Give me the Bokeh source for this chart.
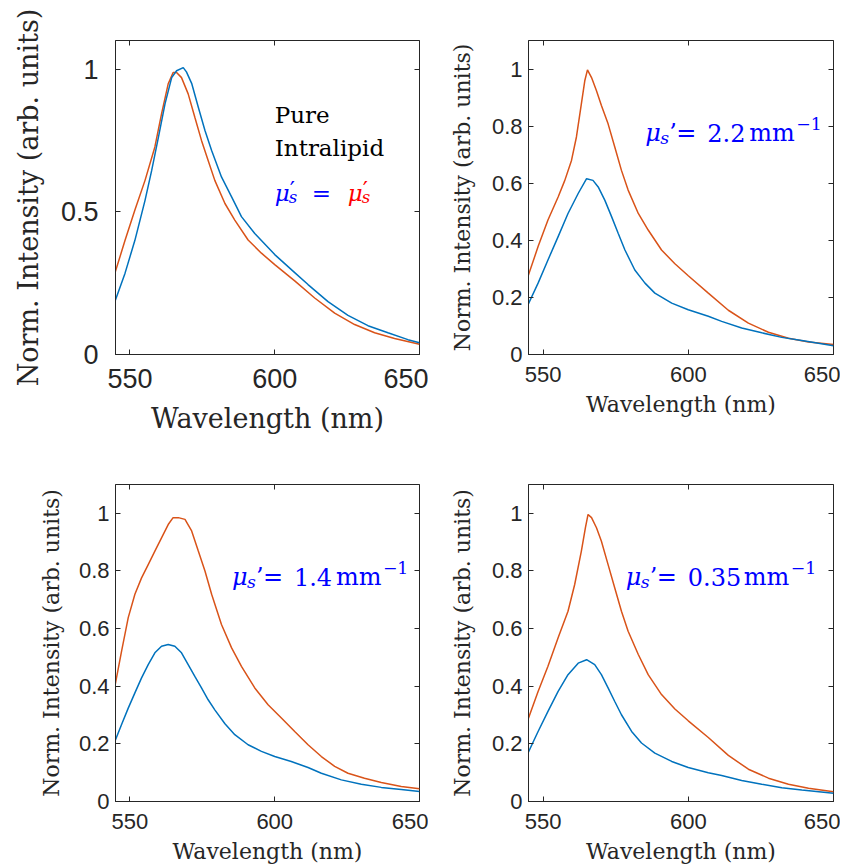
from bokeh.plotting import figure
from bokeh.layouts import column, row
from bokeh.models import Range1d, FixedTicker, LinearAxis, Label, CustomJSTickFormatter
from bokeh.embed import file_html
from bokeh.resources import INLINE

# ---------------- data ----------------
# Panel 1: pure Intralipid
p1_blue_wl = [544.8, 548.3, 551.7, 555.2, 557.5, 559.8, 562.1, 564.4, 566.1, 568.4, 569.5, 571.3, 573.6,
              575.9, 578.2, 581.6, 585.1, 588.5, 593.1, 600, 606.9, 611.5, 618.4, 625.3, 632.2, 639.1, 646, 650]
p1_blue_v = [0.186, 0.285, 0.40, 0.54, 0.645, 0.76, 0.878, 0.97, 0.994, 1.005, 0.99, 0.95, 0.866,
             0.785, 0.715, 0.622, 0.552, 0.483, 0.424, 0.35, 0.287, 0.245, 0.185, 0.137, 0.101, 0.076, 0.052, 0.041]
p1_orange_wl = [544.8, 548.3, 551.7, 555.2, 558.6, 560.9, 563.2, 564.9, 566.1, 567.8, 570.1, 572.4, 574.7,
                577, 579.3, 582.8, 586.2, 590.8, 595.4, 600, 606.9, 613.8, 620.7, 627.6, 634.5, 641.4, 650]
p1_orange_v = [0.285, 0.40, 0.506, 0.61, 0.727, 0.843, 0.948, 0.988, 0.988, 0.97, 0.913, 0.831, 0.75,
               0.68, 0.61, 0.529, 0.471, 0.401, 0.355, 0.315, 0.258, 0.198, 0.145, 0.105, 0.076, 0.056, 0.036]

# Panel 2: mu_s' = 2.2 mm^-1
p2_blue_wl = [544.8, 548.3, 551.7, 555.2, 558.6, 562.1, 565.0, 567.2, 569.0, 571.3, 573.6, 575.9, 578.2,
              581.6, 585.1, 588.5, 594.3, 600, 606.9, 611.5, 618.4, 625.3, 632.2, 639.1, 650]
p2_blue_v = [0.174, 0.25, 0.331, 0.413, 0.494, 0.564, 0.616, 0.61, 0.587, 0.54, 0.483, 0.424, 0.366,
             0.296, 0.25, 0.215, 0.18, 0.157, 0.134, 0.116, 0.093, 0.076, 0.06, 0.049, 0.031]
p2_orange_wl = [544.8, 548.3, 551.7, 555.2, 557.5, 559.8, 561.5, 563.2, 564.4, 565.3, 566.7, 568.4, 570.1,
                572.4, 574.7, 577, 579.3, 582.8, 586.2, 590.8, 595.4, 600, 606.9, 613.8, 620.7, 627.6,
                634.5, 641.4, 650]
p2_orange_v = [0.273, 0.378, 0.471, 0.552, 0.61, 0.68, 0.762, 0.878, 0.96, 0.997, 0.97, 0.924, 0.872,
               0.808, 0.727, 0.645, 0.576, 0.494, 0.436, 0.366, 0.318, 0.276, 0.215, 0.155, 0.11, 0.078,
               0.057, 0.044, 0.035]

# Panel 3: mu_s' = 1.4 mm^-1
p3_blue_wl = [544.8, 547.1, 549.4, 551.7, 554.0, 556.3, 558.6, 560.9, 563.2, 565.5, 567.8, 570.1, 572.4,
              574.7, 577, 579.3, 582.8, 586.2, 590.8, 595.4, 600, 605.7, 611.5, 616.1, 623, 629.9, 636.8,
              643.7, 650]
p3_blue_v = [0.209, 0.267, 0.324, 0.377, 0.429, 0.475, 0.516, 0.539, 0.545, 0.539, 0.516, 0.475, 0.434,
             0.394, 0.353, 0.318, 0.27, 0.232, 0.197, 0.174, 0.156, 0.139, 0.118, 0.098, 0.075, 0.06,
             0.049, 0.042, 0.035]
p3_orange_wl = [544.8, 547.1, 549.4, 551.7, 554.0, 556.3, 558.6, 560.9, 563.2, 564.9, 566.7, 569.0, 571.3,
                573.6, 575.9, 578.2, 581.6, 585.1, 588.5, 593.1, 597.7, 602.3, 606.9, 611.5, 616.1,
                620.7, 625.3, 631.0, 636.8, 643.7, 650]
p3_orange_v = [0.40, 0.522, 0.638, 0.719, 0.776, 0.822, 0.869, 0.915, 0.961, 0.985, 0.985, 0.979, 0.939,
               0.869, 0.80, 0.719, 0.614, 0.533, 0.469, 0.394, 0.336, 0.29, 0.243, 0.197, 0.156,
               0.122, 0.098, 0.081, 0.066, 0.052, 0.044]

# Panel 4: mu_s' = 0.35 mm^-1
p4_blue_wl = [544.8, 548.3, 551.7, 555.2, 558.6, 562.1, 565.0, 567.8, 570.1, 572.4, 574.7, 577, 580.5,
              583.9, 588.5, 594.3, 600, 606.9, 611.5, 618.4, 625.3, 632.2, 639.1, 650]
p4_blue_v = [0.168, 0.243, 0.313, 0.382, 0.44, 0.48, 0.492, 0.475, 0.44, 0.394, 0.347, 0.301, 0.243,
             0.203, 0.168, 0.139, 0.118, 0.1, 0.09, 0.073, 0.06, 0.048, 0.04, 0.029]
p4_orange_wl = [544.8, 548.3, 551.7, 555.2, 558.6, 560.9, 563.2, 564.6, 565.5, 566.7, 568.4, 570.1, 572.4,
                574.7, 577, 579.3, 582.8, 586.2, 590.8, 595.4, 600, 606.9, 613.8, 620.7, 627.6, 634.5,
                641.4, 650]
p4_orange_v = [0.284, 0.382, 0.469, 0.568, 0.66, 0.753, 0.869, 0.95, 0.996, 0.985, 0.95, 0.903, 0.822,
               0.741, 0.66, 0.591, 0.51, 0.44, 0.371, 0.321, 0.28, 0.222, 0.16, 0.112, 0.081, 0.06,
               0.046, 0.034]

x_ticks = [550, 600, 650]
y_ticks_p1 = [0, 0.5, 1]
y_ticks_other = [0, 0.2, 0.4, 0.6, 0.8, 1]
labels_mu = ["2.2", "1.4", "0.35"]

BLUE = "#0072BD"
ORANGE = "#D95319"
TICK_FONT = "Liberation Sans"
SERIF = "DejaVu Serif"
AX_COLOR = "#262626"


def make_panel(width, height, mb_left, mb_right, mb_top, mb_bottom, yticks,
               tick_size, label_size, x_tick_standoff, y_tick_standoff, x_standoff, y_standoff):
    p = figure(width=width, height=height, output_backend="svg", toolbar_location=None,
               x_range=Range1d(545.0, 650), y_range=Range1d(0, 1.1),
               min_border_left=mb_left, min_border_right=mb_right,
               min_border_top=mb_top, min_border_bottom=mb_bottom)
    p.grid.visible = False
    p.outline_line_color = AX_COLOR
    p.outline_line_width = 1
    fmt = CustomJSTickFormatter(code="return String(Math.round(tick*10)/10);")
    for ax in [p.xaxis[0], p.yaxis[0]]:
        ax.major_tick_in = 5
        ax.major_tick_out = 0
        ax.minor_tick_in = 0
        ax.minor_tick_out = 0
        ax.axis_line_color = AX_COLOR
        ax.major_tick_line_color = AX_COLOR
        ax.major_label_text_font = TICK_FONT
        ax.major_label_text_font_size = tick_size
        ax.major_label_text_color = AX_COLOR
        ax.axis_label_text_font = SERIF
        ax.axis_label_text_font_style = "normal"
        ax.axis_label_text_font_size = label_size
        ax.axis_label_text_color = AX_COLOR
        ax.formatter = fmt
    p.xaxis[0].ticker = FixedTicker(ticks=x_ticks)
    p.yaxis[0].ticker = FixedTicker(ticks=yticks)
    p.xaxis[0].axis_label = "Wavelength (nm)"
    p.yaxis[0].axis_label = "Norm. Intensity (arb. units)"
    p.xaxis[0].axis_label_standoff = x_standoff
    p.yaxis[0].axis_label_standoff = y_standoff
    p.xaxis[0].major_label_standoff = x_tick_standoff
    p.yaxis[0].major_label_standoff = y_tick_standoff
    # mirror ticks (box on), no labels
    empty = CustomJSTickFormatter(code="return '';")
    for loc, tk in [("right", yticks), ("above", x_ticks)]:
        a = LinearAxis(ticker=FixedTicker(ticks=tk), formatter=empty)
        a.major_tick_in = 5
        a.major_tick_out = 0
        a.minor_tick_in = 0
        a.minor_tick_out = 0
        a.axis_line_color = None
        a.major_tick_line_color = AX_COLOR
        a.major_label_standoff = 0
        p.add_layout(a, loc)
    return p


def add_lines(p, bwl, bv, owl, ov):
    p.line(owl, ov, line_color=ORANGE, line_width=1.5)
    p.line(bwl, bv, line_color=BLUE, line_width=1.5)


def put(p, x, y, dx, dy, txt, size, color, style="normal"):
    p.add_layout(Label(x=x, y=y, x_offset=dx, y_offset=dy, text=txt,
                       text_font=SERIF, text_font_size=f"{size:.1f}px",
                       text_font_style=style, text_color=color,
                       text_baseline="alphabetic"))


def mu_label(p, x, y, number, s, num_w):
    # μ_s'= N mm^-1  composed of pieces (offsets in pixels)
    put(p, x, y, 0, 0, "μ", s, "blue", "italic")
    put(p, x, y, 15, -5, "s", 0.72 * s, "blue", "italic")
    put(p, x, y, 24, 0, "’", s, "blue")
    put(p, x, y, 31, 0, "=", s, "blue")
    put(p, x, y, 62, 0, number, s, "blue")
    put(p, x, y, 62 + num_w, 0, "mm", s, "blue")
    put(p, x, y, 62 + num_w + 47, 9, "−1", 0.72 * s, "blue")


# ---------------- panels ----------------
p1 = make_panel(428, 448, 115, 9, 40, 94, y_ticks_p1, "27px", "27px", 14, 17, 12, 14)
add_lines(p1, p1_blue_wl, p1_blue_v, p1_orange_wl, p1_orange_v)
S1 = 23
put(p1, 600.0, 0.84, 0, 0, "Pure", S1, "black")
put(p1, 600.0, 0.725, 0, 0, "Intralipid", S1, "black")
for dx, col in [(0, "blue"), (73, "red")]:
    put(p1, 600.0, 0.567, dx, 0, "μ", S1, col, "italic")
    put(p1, 600.0, 0.567, dx + 15, 4, "′", S1, col)
    put(p1, 600.0, 0.567, dx + 14, -5, "s", 0.72 * S1, col, "italic")
put(p1, 600.0, 0.567, 37, 0, "=", S1, "blue")

p2 = make_panel(412, 448, 100, 7, 40, 94, y_ticks_other, "22px", "22px", 12, 6, 7, 14)
add_lines(p2, p2_blue_wl, p2_blue_v, p2_orange_wl, p2_orange_v)
mu_label(p2, 585.2, 0.777, labels_mu[0], 24, 42)

p3 = make_panel(428, 419, 115, 9, 36, 66, y_ticks_other, "22px", "22px", 12, 6, 7, 12)
add_lines(p3, p3_blue_wl, p3_blue_v, p3_orange_wl, p3_orange_v)
mu_label(p3, 585.2, 0.779, labels_mu[1], 24, 42)

p4 = make_panel(412, 419, 100, 7, 36, 66, y_ticks_other, "22px", "22px", 12, 6, 7, 14)
add_lines(p4, p4_blue_wl, p4_blue_v, p4_orange_wl, p4_orange_v)
mu_label(p4, 578.5, 0.779, labels_mu[2], 24, 56)

layout = column(row(p1, p2, spacing=0), row(p3, p4, spacing=0), spacing=0)
open("out.html", "w").write(file_html(layout, INLINE))
